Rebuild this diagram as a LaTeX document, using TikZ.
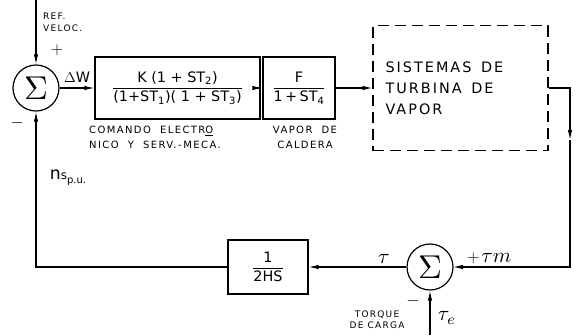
\documentclass[tikz,border=0pt]{standalone}
\usepackage{amsmath}
\usepackage{graphicx}
\usepackage{fontspec}
\setmainfont{DejaVu Sans}
\newfontfamily\handfont[LetterSpace=14]{DejaVu Sans}
\usepackage{tikz}
\usetikzlibrary{arrows.meta,positioning,calc}

\newcommand{\bigsum}{\scalebox{3.3}{$\Sigma$}}
\newcommand{\torq}[1]{\scalebox{2.1}{$#1$}}

\begin{document}
\begin{tikzpicture}[x=1pt,y=-1pt,
    blockbox/.style={draw,line width=1.2pt,minimum height=60pt,inner sep=2pt},
    sumnode/.style={draw,circle,line width=1.2pt,minimum size=46pt,inner sep=0pt},
    flow/.style={line width=1.1pt,-{Latex[length=10pt,width=4.5pt]}},
    lbl/.style={font=\handfont,inner sep=1pt,align=left},
    sign/.style={font=\LARGE,inner sep=1pt}]
    \useasboundingbox (0,0) rectangle (576,335);

    % First summing junction
    \node[sumnode] (sumA) at (36,88) {\bigsum};
    \coordinate (refin) at (36,0);
    \draw[flow] (refin) -- (sumA.north);
    \node[lbl,anchor=north west,font=\handfont\small] (reflbl) at (42,12) {REF.\\[1pt]VELOC.};
    \node[sign] (plusA) at (57,50) {$+$};
    \node[sign] (minusA) at (17,123) {$-$};
    \node[anchor=south,font=\Large] (dw) at (77,86) {$\Delta$W};

    % Control block
    \node[blockbox,minimum width=165pt,minimum height=62pt] (ctrl) at (177.5,88) {\Large
        $\dfrac{\text{K (1 + ST\textsubscript{2})}}{\text{(1+ST\textsubscript{1})( 1 + ST\textsubscript{3})}}$};
    \draw[flow] (sumA.east) -- (ctrl.west);
    \node[lbl,anchor=north west] (ctrllbl) at (88,125) {COMANDO\ \ ELECTR\underline{O}\\[3pt]NICO\ \ Y\ \ SERV.\,-\,MECA.};
    \node[inner sep=1pt] (speed) at (68,178) {{\LARGE n}{\large s}\raisebox{-4pt}{\normalsize p.u.}};

    % Boiler block
    \node[blockbox,minimum width=72pt,minimum height=62pt] (boiler) at (299,88) {\Large
        $\dfrac{\text{F}}{\text{1\,+\,ST\textsubscript{4}}}$};
    \draw[flow] (ctrl.east) -- (boiler.west);
    \node[lbl,align=center,anchor=north] (boilerlbl) at (305,125) {VAPOR\ \ DE\\[3pt]CALDERA};

    % Turbine block
    \node[blockbox,dashed,dash pattern=on 11pt off 6pt,minimum width=175pt,minimum height=125pt,
          text width=150pt,align=left,font=\handfont\Large] (turb) at (460.5,88) {SISTEMAS\ \ DE\\[3pt]TURBINA\ \ DE\\[3pt]VAPOR};
    \draw[flow] (boiler.east) -- (turb.west);

    % Turbine output down to second junction
    \coordinate (downmid) at (570,140);
    \coordinate (cornerR) at (570,267);
    \draw[flow] (turb.east) -| (downmid);
    \draw[flow] (downmid) -- (cornerR) -- (430+23,267);

    % Second summing junction
    \node[sumnode] (sumB) at (430,267) {\bigsum};
    \node[anchor=south west,inner sep=1pt] (tm) at (466,265) {{\LARGE$+$}\,\torq{\tau m}};
    \coordinate (tein) at (430,335);
    \draw[flow] (tein) -- (sumB.south);
    \node[sign] (minusB) at (413,301) {$-$};
    \node[lbl,align=center,font=\handfont\small] (loadlbl) at (377,320) {TORQUE\\DE\ CARGA};
    \node[inner sep=1pt] (te) at (447,318) {\torq{\tau_e}};

    % Inertia block
    \node[blockbox,minimum width=80pt,minimum height=54pt] (inertia) at (268,267) {\Large
        $\dfrac{\text{1}}{\text{2HS}}$};
    \draw[flow] (sumB.west) -- (inertia.east);
    \node[anchor=south,inner sep=1pt] (tau) at (384,265) {\torq{\tau}};

    % Speed feedback
    \coordinate (cornerL) at (36,267);
    \draw[flow] (inertia.west) -- (cornerL) -- (sumA.south);
\end{tikzpicture}
\end{document}
